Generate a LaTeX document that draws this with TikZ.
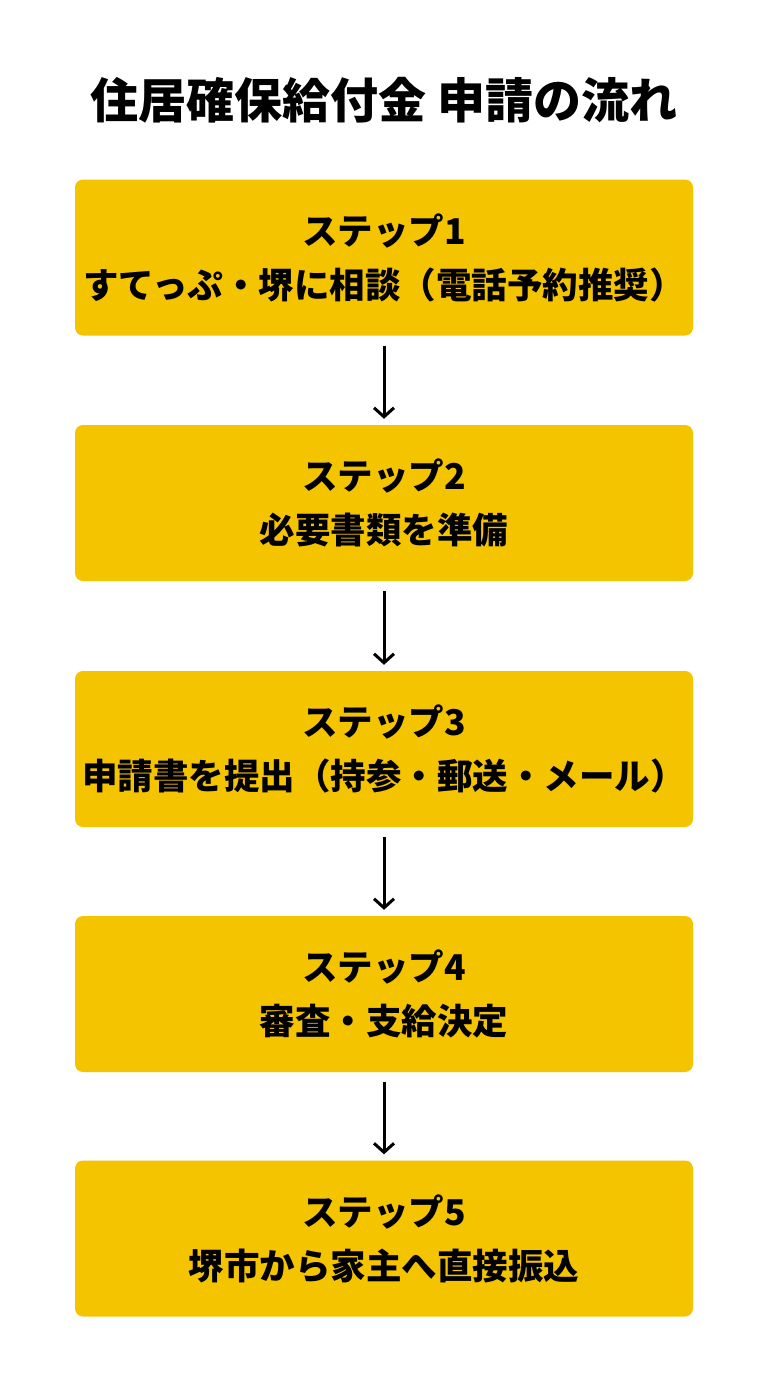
\documentclass[tikz,border=0pt]{standalone}
\usepackage{fontspec}
\setmainfont{Noto Sans CJK JP}
\usetikzlibrary{arrows.meta}
\definecolor{boxy}{HTML}{F5C400}
\begin{document}
\begin{tikzpicture}[x=1pt,y=-1pt,
  stepbox/.style={fill=boxy,rounded corners=8pt,minimum width=618pt,minimum height=156pt,align=center,font=\fontsize{35.5}{54}\selectfont\bfseries,inner sep=0pt},
  arr/.style={-{Straight Barb[length=9pt,width=20pt,line width=3pt]},line width=3pt,black}]
\useasboundingbox (0,0) rectangle (768,1376);
\fill[white] (0,0) rectangle (768,1376);
\node[font=\fontsize{48}{54}\selectfont\bfseries] (title) at (384,100) {住居確保給付金 申請の流れ};
\node[stepbox] (s1) at (384,257.5) {ステップ1\\すてっぷ・堺に相談（電話予約推奨）};
\node[stepbox] (s2) at (384,503) {ステップ2\\必要書類を準備};
\node[stepbox] (s3) at (384,749) {ステップ3\\申請書を提出（持参・郵送・メール）};
\node[stepbox] (s4) at (384,994) {ステップ4\\審査・支給決定};
\node[stepbox] (s5) at (384,1238.5) {ステップ5\\堺市から家主へ直接振込};
\foreach \a/\b in {s1/s2,s2/s3,s3/s4,s4/s5}
  \draw[arr] ([yshift=-10pt]\a.south) -- ([yshift=6pt]\b.north);
\end{tikzpicture}
\end{document}
